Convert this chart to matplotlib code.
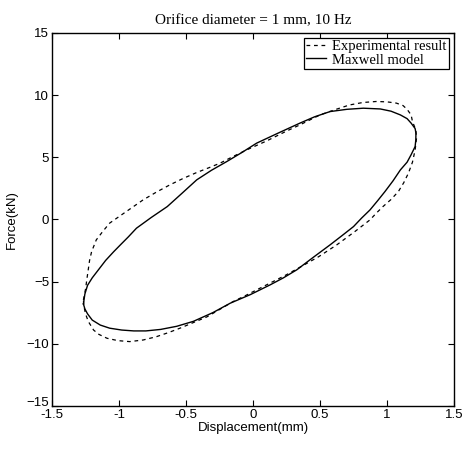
import numpy as np
import matplotlib
matplotlib.use("Agg")
import matplotlib.pyplot as plt
from matplotlib.transforms import ScaledTranslation

# Maxwell model loop (clockwise from the left nose)
model_x = [-1.266, -1.255, -1.235, -1.20, -1.15, -1.10, -1.04, -0.99, -0.93, -0.87,
           -0.76, -0.64, -0.53, -0.42, -0.31, -0.196, -0.08, 0.027, 0.19, 0.35,
           0.46, 0.575, 0.70, 0.823, 0.95, 1.03, 1.10, 1.15, 1.18, 1.21,
           1.216, 1.215, 1.21, 1.18, 1.15, 1.10, 1.045, 0.985, 0.93, 0.873,
           0.81, 0.75, 0.665, 0.575, 0.45, 0.326, 0.227, 0.127, -0.02, -0.17,
           -0.30, -0.445, -0.57, -0.69, -0.80, -0.89, -0.98, -1.07, -1.14, -1.20,
           -1.235, -1.255, -1.266]
model_y = [-6.8, -6.0, -5.3, -4.7, -4.0, -3.3, -2.6, -2.05, -1.4, -0.71,
           0.15, 1.03, 2.1, 3.18, 3.95, 4.65, 5.4, 6.13, 6.95, 7.74,
           8.25, 8.67, 8.85, 8.94, 8.88, 8.7, 8.4, 8.1, 7.74, 7.3,
           6.93, 6.4, 5.86, 5.2, 4.6, 3.98, 3.1, 2.24, 1.5, 0.76,
           0.1, -0.58, -1.3, -2.05, -3.05, -4.06, -4.7, -5.27, -6.05, -6.74,
           -7.5, -8.2, -8.6, -8.85, -8.97, -8.97, -8.9, -8.75, -8.5, -8.1,
           -7.6, -7.2, -6.8]

# experimental loop
exp_x = [-1.266, -1.25, -1.24, -1.23, -1.22, -1.205, -1.17, -1.12, -1.07, -0.95,
         -0.82, -0.72, -0.62, -0.52, -0.42, -0.33, -0.246, -0.15, -0.047, 0.10,
         0.25, 0.35, 0.50, 0.62, 0.72, 0.82, 0.92, 1.00, 1.07, 1.12,
         1.15, 1.18, 1.19, 1.215, 1.22, 1.21, 1.19, 1.16, 1.125, 1.085,
         1.03, 0.97, 0.92, 0.873, 0.76, 0.625, 0.49, 0.35, 0.25, 0.15,
         0.027, -0.06, -0.147, -0.25, -0.346, -0.545, -0.63, -0.72, -0.82, -0.92,
         -1.01, -1.09, -1.15, -1.19, -1.23, -1.25, -1.262, -1.266]
exp_y = [-6.48, -5.6, -4.8, -4.06, -3.3, -2.6, -1.65, -0.95, -0.3, 0.6,
         1.57, 2.2, 2.78, 3.3, 3.77, 4.15, 4.52, 5.05, 5.59, 6.3,
         7.1, 7.6, 8.4, 8.85, 9.2, 9.4, 9.48, 9.45, 9.35, 9.15,
         8.85, 8.4, 7.87, 7.2, 6.5, 5.59, 4.6, 3.72, 2.95, 2.24,
         1.6, 1.03, 0.5, -0.04, -0.98, -2.05, -3.0, -3.85, -4.45, -5.0,
         -5.67, -6.15, -6.6, -7.25, -7.85, -8.75, -9.1, -9.43, -9.7, -9.83,
         -9.75, -9.56, -9.25, -8.9, -8.2, -7.6, -7.0, -6.48]

xticks = [-1.5, -1, -0.5, 0, 0.5, 1, 1.5]
xticklabels = ["-1.5", "-1", "-0.5", "0", "0.5", "1", "1.5"]
yticks = [-15, -10, -5, 0, 5, 10, 15]

plt.rcParams['font.family'] = ['Liberation Sans', 'DejaVu Sans']

fig = plt.figure(figsize=(4.69, 4.5), dpi=100)
ax = fig.add_axes([0.111, 0.098, 0.857, 0.829])

ax.plot(exp_x, exp_y, color="black", lw=0.9, ls=(0, (3, 3)), label="Experimental result")
ax.plot(model_x, model_y, color="black", lw=1.0, label="Maxwell model")

ax.set_xlim(-1.5, 1.5)
ax.set_ylim(-15, 15)
ax.set_xticks(xticks)
ax.set_xticklabels(xticklabels)
ax.set_yticks(yticks)
ax.tick_params(direction="in", top=True, right=True, length=4, labelsize=9.5, pad=2)
for s in ax.spines.values():
    s.set_linewidth(1.0)

# nudge the bottom y label up a little so it doesn't sit on "-1.5"
lab = ax.get_yticklabels()[0]
lab.set_transform(lab.get_transform() + ScaledTranslation(0, 3 / 72, fig.dpi_scale_trans))

ax.set_xlabel("Displacement(mm)", fontsize=9.5, labelpad=1)
ax.set_ylabel("Force(kN)", fontsize=9.5, labelpad=6)
ax.set_title("Orifice diameter = 1 mm, 10 Hz", fontsize=11, family="Liberation Serif", pad=6)

leg = ax.legend(loc="upper right", prop={"family": "Liberation Serif", "size": 10.5},
                fancybox=False, edgecolor="black", framealpha=1, handlelength=1.4,
                borderaxespad=0.35, handletextpad=0.4, borderpad=0.15, labelspacing=0.0)
leg.get_frame().set_linewidth(0.9)

fig.savefig("out.png", dpi=100)
